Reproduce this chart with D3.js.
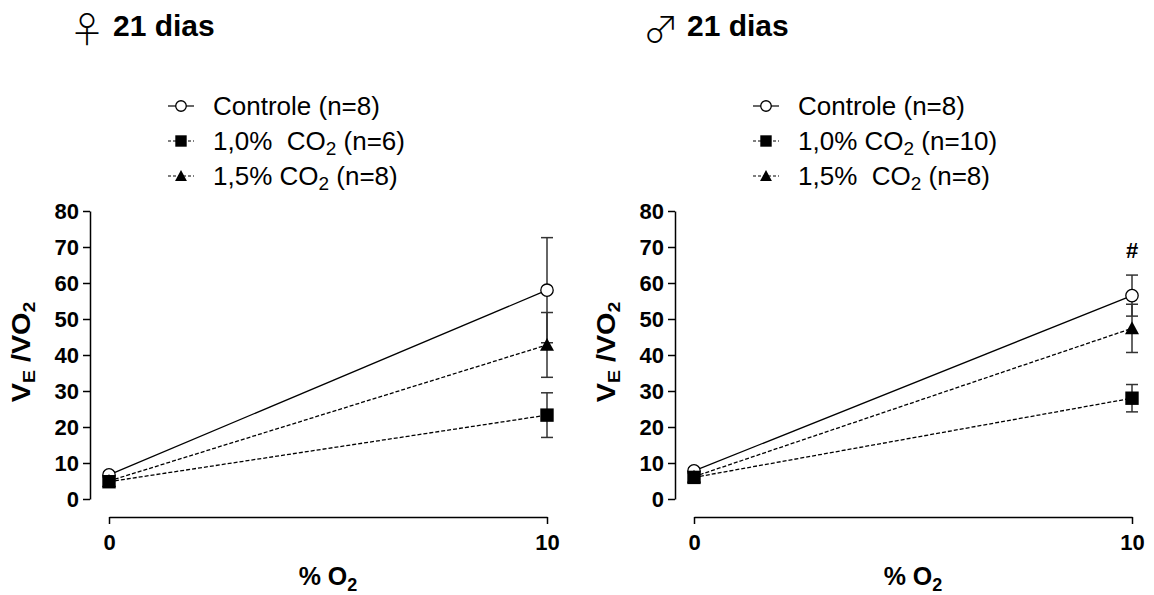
<!DOCTYPE html>
<html>
<head>
<meta charset="utf-8">
<script src="https://cdn.jsdelivr.net/npm/d3@7"></script>
<style>
  body { margin: 0; background: #fff; }
  text { font-family: "Liberation Sans", Arial, sans-serif; fill: #000; }
  .pre { white-space: pre; }
</style>
</head>
<body>
<script>
// x categories (% O2) and y ticks
const xTicks = [0, 10]
const yTicks = [0, 10, 20, 30, 40, 50, 60, 70, 80]

// female, 21 days
const femControle = [6.7, 58.0]
const femControleErr = [0.8, 14.6]
const femCO2a = [4.8, 23.3]      // 1,0% CO2
const femCO2aErr = [0.6, 6.2]
const femCO2b = [5.0, 42.8]      // 1,5% CO2
const femCO2bErr = [0.6, 9.0]
const femLegend = [['Controle (n=8)', '', ''], ['1,0%  CO', '2', ' (n=6)'], ['1,5% CO', '2', ' (n=8)']]

// male, 21 days
const malControle = [7.8, 56.5]
const malControleErr = [0.8, 5.7]
const malCO2a = [6.0, 28.0]
const malCO2aErr = [0.5, 3.8]
const malCO2b = [6.2, 47.4]
const malCO2bErr = [0.6, 6.7]
const malLegend = [['Controle (n=8)', '', ''], ['1,0% CO', '2', ' (n=10)'], ['1,5%  CO', '2', ' (n=8)']]

const svg = d3.select('body').append('svg')
  .attr('width', 1154)
  .attr('height', 595)

// draws one panel; ox = x of the y axis
function drawPanel(p) {
  const g = svg.append('g')
  const ox = p.ox

  const x = d3.scaleLinear().domain([0, 10]).range([ox + 19, ox + 457])
  const y = d3.scaleLinear().domain([0, 80]).range([499, 211])

  // title
  g.append('text')
    .text(p.symbol)
    .attr('x', p.symX)
    .attr('y', 43)
    .attr('text-anchor', 'middle')
    .style('font-family', '"Noto Sans CJK JP", "DejaVu Sans", sans-serif')
    .style('font-weight', 300)
    .style('font-size', '36px')
  g.append('text')
    .text('21 dias')
    .attr('x', p.titleX)
    .attr('y', 36)
    .style('font-weight', 'bold')
    .style('font-size', '30px')

  // y axis
  const yAxis = d3.axisLeft(y).tickValues(yTicks).tickSize(7).tickSizeOuter(0).tickPadding(4)
  const ya = g.append('g').attr('transform', `translate(${ox},0)`).call(yAxis)
  ya.selectAll('text').style('font-size', '22px').style('font-weight', 'bold')
  ya.selectAll('path, line').attr('stroke', '#000').attr('stroke-width', 1.5)

  // x axis, offset below
  const xAxis = d3.axisBottom(x).tickValues(xTicks).tickSize(7).tickSizeOuter(0).tickPadding(10)
  const xa = g.append('g').attr('transform', 'translate(0,517)').call(xAxis)
  xa.selectAll('text').style('font-size', '22px').style('font-weight', 'bold')
  xa.selectAll('path, line').attr('stroke', '#000').attr('stroke-width', 1.5)

  // axis titles
  const xt = g.append('text')
    .attr('x', (x(0) + x(10)) / 2)
    .attr('y', 585)
    .attr('text-anchor', 'middle')
    .style('font-weight', 'bold')
    .style('font-size', '25px')
  xt.append('tspan').text('% O')
  xt.append('tspan').text('2').attr('dy', 6).style('font-size', '18px')

  const yt = g.append('text')
    .attr('transform', `translate(${ox - 60},352) rotate(-90) scale(1.15,1)`)
    .attr('text-anchor', 'middle')
    .style('font-weight', 'bold')
    .style('font-size', '25px')
  yt.append('tspan').text('V')
  yt.append('tspan').text('E').attr('dy', 5).style('font-size', '17px')
  yt.append('tspan').attr('class', 'pre').text(' /VO').attr('dy', -5)
  yt.append('tspan').text('2').attr('dy', 5).style('font-size', '17px')

  // series
  const series = [
    { vals: p.controle, err: p.controleErr, dash: null, mark: 'circle' },
    { vals: p.co2b, err: p.co2bErr, dash: '4,2', mark: 'triangle' },
    { vals: p.co2a, err: p.co2aErr, dash: '4,2', mark: 'square' }
  ]

  const line = d3.line().x((d, i) => x(xTicks[i])).y(d => y(d))

  series.forEach(s => {
    g.append('path')
      .datum(s.vals)
      .attr('d', line)
      .attr('fill', 'none')
      .attr('stroke', '#000')
      .attr('stroke-width', 1.3)
      .attr('stroke-dasharray', s.dash)
  })

  // error bars
  series.forEach(s => {
    const eg = g.append('g').attr('stroke', '#333').attr('stroke-width', 1.5)
    s.vals.forEach((v, i) => {
      const cx = x(xTicks[i])
      const top = y(v + s.err[i])
      const bot = y(v - s.err[i])
      eg.append('line').attr('x1', cx).attr('x2', cx).attr('y1', top).attr('y2', bot)
      eg.append('line').attr('x1', cx - 6).attr('x2', cx + 6).attr('y1', top).attr('y2', top)
      eg.append('line').attr('x1', cx - 6).attr('x2', cx + 6).attr('y1', bot).attr('y2', bot)
    })
  })

  // markers
  series.forEach(s => {
    s.vals.forEach((v, i) => {
      drawMarker(g, s.mark, x(xTicks[i]), y(v))
    })
  })

  // legend
  const lx = ox + 91
  const rows = [106, 141, 176]
  const legMarks = ['circle', 'square', 'triangle']
  p.legend.forEach((lab, i) => {
    const ly = rows[i]
    g.append('line')
      .attr('x1', lx - 13).attr('x2', lx + 13)
      .attr('y1', ly).attr('y2', ly)
      .attr('stroke', '#000')
      .attr('stroke-width', 1.2)
      .attr('stroke-dasharray', i === 0 ? null : '3,2')
    drawMarker(g, legMarks[i], lx, ly, 0.85)
    const t = g.append('text')
      .attr('class', 'pre')
      .attr('x', lx + 32)
      .attr('y', ly + 9)
      .style('font-size', '26px')
    t.append('tspan').text(lab[0])
    if (lab[1]) {
      t.append('tspan').text(lab[1]).attr('dy', 5).style('font-size', '19px')
      t.append('tspan').text(lab[2]).attr('dy', -5)
    }
  })

  if (p.mark) {
    g.append('text')
      .text(p.mark)
      .attr('x', x(10))
      .attr('y', 258)
      .attr('text-anchor', 'middle')
      .style('font-weight', 'bold')
      .style('font-size', '22px')
  }
}

function drawMarker(g, type, cx, cy, k = 1) {
  if (type === 'circle') {
    g.append('circle').attr('cx', cx).attr('cy', cy).attr('r', 6.2 * k)
      .attr('fill', '#fff').attr('stroke', '#000').attr('stroke-width', 1.3)
  } else if (type === 'square') {
    const h = 6.7 * k
    g.append('rect').attr('x', cx - h).attr('y', cy - h).attr('width', 2 * h).attr('height', 2 * h)
      .attr('fill', '#000')
  } else {
    const h = 7 * k
    g.append('path')
      .attr('d', `M${cx},${cy - h}L${cx + h},${cy + h * 0.85}L${cx - h},${cy + h * 0.85}Z`)
      .attr('fill', '#000')
  }
}

drawPanel({
  ox: 90, symbol: '\u2640', symX: 87, titleX: 113,
  controle: femControle, controleErr: femControleErr,
  co2a: femCO2a, co2aErr: femCO2aErr,
  co2b: femCO2b, co2bErr: femCO2bErr,
  legend: femLegend, mark: null
})

drawPanel({
  ox: 675, symbol: '\u2642', symX: 661, titleX: 687,
  controle: malControle, controleErr: malControleErr,
  co2a: malCO2a, co2aErr: malCO2aErr,
  co2b: malCO2b, co2bErr: malCO2bErr,
  legend: malLegend, mark: '#'
})
</script>
</body>
</html>
